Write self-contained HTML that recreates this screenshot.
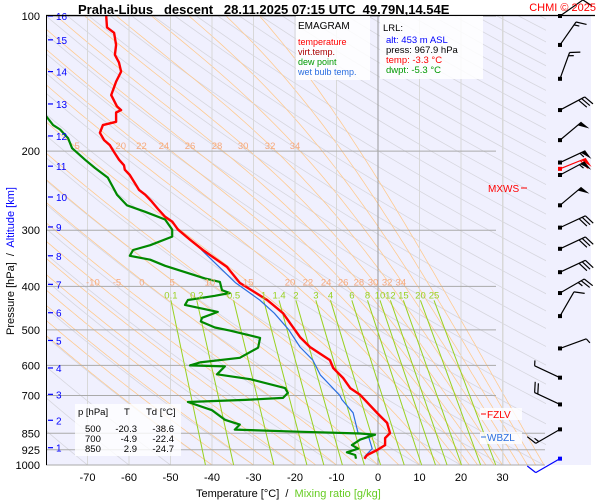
<!DOCTYPE html>
<html><head><meta charset="utf-8"><style>
html,body{margin:0;padding:0;background:#fff;width:600px;height:500px;overflow:hidden}
svg{display:block;font-family:"Liberation Sans",sans-serif}
</style></head><body>
<svg id="chart" width="600" height="500" viewBox="0 0 600 500">
<defs><clipPath id="clipPlot"><rect x="46" y="16" width="457" height="449"/></clipPath>
<clipPath id="clipWide"><rect x="46" y="16" width="500" height="449"/></clipPath></defs>
<rect x="46" y="16" width="545" height="449" fill="#f0f0fe"/>
<g id="grid"></g><g id="series"></g><g id="labels"></g><g id="winds"></g>
<text x="78" y="14" font-size="13" font-weight="bold" fill="#000" xml:space="preserve">Praha-Libus   descent   28.11.2025 07:15 UTC  49.79N,14.54E</text>
<text x="596" y="11" font-size="11" fill="#f00" text-anchor="end">CHMI © 2025</text>
<line x1="46" y1="15.5" x2="595" y2="15.5" stroke="#000" stroke-width="1.2"/>
<line x1="46.5" y1="16" x2="46.5" y2="465" stroke="#000" stroke-width="1"/>
<text transform="translate(14,335) rotate(-90)" font-size="11" xml:space="preserve"><tspan fill="#000">Pressure [hPa]  /  </tspan><tspan fill="#00f">Altitude [km]</tspan></text>
<text x="196" y="497" font-size="11" xml:space="preserve"><tspan fill="#000">Temperature [°C]  /  </tspan><tspan fill="#66cc22">Mixing ratio [g/kg]</tspan></text>
<g>
<rect x="296" y="16" width="74" height="64" fill="#fff" opacity="0.85"/>
<text x="298" y="29" font-size="10" fill="#000">EMAGRAM</text>
<text x="298" y="45" font-size="9" fill="#f00">temperature</text>
<text x="298" y="55" font-size="9" fill="#a00">virt.temp.</text>
<text x="298" y="65" font-size="9" fill="#090">dew point</text>
<text x="298" y="75" font-size="9" fill="#2a6ee0">wet bulb temp.</text>
</g>
<g>
<rect x="380" y="16" width="103" height="63" fill="#fff" opacity="0.85"/>
<text x="383" y="31" font-size="9.5" fill="#000">LRL:</text>
<text x="386" y="43" font-size="9.5" fill="#00f">alt: 453 m ASL</text>
<text x="386" y="53" font-size="9.5" fill="#000">press: 967.9 hPa</text>
<text x="386" y="63" font-size="9.5" fill="#f00">temp: -3.3 °C</text>
<text x="386" y="73" font-size="9.5" fill="#090">dwpt: -5.3 °C</text>
</g>
<g font-size="9.5" fill="#000">
<rect x="75" y="404" width="106" height="52" fill="#fff" opacity="0.8"/>
<text x="78" y="415">p [hPa]</text><text x="124" y="415">T</text><text x="146" y="415">Td [°C]</text>
<text x="85" y="432">500</text><text x="137" y="432" text-anchor="end">-20.3</text><text x="174" y="432" text-anchor="end">-38.6</text>
<text x="85" y="442">700</text><text x="137" y="442" text-anchor="end">-4.9</text><text x="174" y="442" text-anchor="end">-22.4</text>
<text x="85" y="452">850</text><text x="137" y="452" text-anchor="end">2.9</text><text x="174" y="452" text-anchor="end">-24.7</text>
</g>
<g font-size="10">
<text x="488" y="192" fill="#f00">MXWS</text><line x1="521" y1="188" x2="527" y2="188" stroke="#f00"/>
<rect x="480" y="408" width="42" height="12" fill="#fff" opacity="0.8"/>
<line x1="481" y1="414" x2="486" y2="414" stroke="#f00"/><text x="487" y="418" fill="#f00">FZLV</text>
<rect x="480" y="432" width="42" height="12" fill="#fff" opacity="0.8"/>
<line x1="481" y1="437" x2="486" y2="437" stroke="#2a6ee0"/><text x="487" y="441" fill="#2a6ee0">WBZL</text>
</g>
</svg>
<script>
const NS='http://www.w3.org/2000/svg';
// data
const pressureTicks=[100,200,300,400,500,600,700,850,925,1000];
const tempTicks=[-70,-60,-50,-40,-30,-20,-10,0,10,20,30];
const altKm=[1,2,3,4,5,6,7,8,9,10,11,12,13,14,15,16];
const altP=[915,795,696,608,528,458,396,342,295,253,216,185,157,133,113,100];
const mixRatios=[0.1,0.2,0.5,1,1.4,2,3,4,6,8,10,12,15,20,25];
const moistThetaW=[-40,-35,-30,-25,-20,-15,-10,-5,0,5,10,15,20,22,24,26,28,30,32,34,36,38,40];
const thetaLabelsLow=['-10','-5','0','5','10','15','20','22','24','26','28','30','32','34'];
const thetaLabelsLowT=[-68.7,-62.9,-56.9,-49.6,-40.5,-31.3,-21.2,-16.9,-12.5,-8.4,-4.6,-1.2,2.2,5.5];
const thetaLabelsHigh=['5','20','22','24','26','28','30','32','34'];
const thetaLabelsHighT=[-72.5,-62,-57,-51.6,-45.3,-38.8,-32.5,-26,-20];
const tempP=[100,106,109,116,122,127,133,140,150,159,162,164,172,175,182,189,194,201,209,215,220,226,234,244,250,259,269,280,287,299,315,332,362,393,429,459,519,546,584,608,640,674,698,766,806,849,871,903,926,950,968];
const tempT=[-65.5,-65.3,-63.6,-63.1,-63.4,-62.4,-61.9,-63.1,-64.3,-62.9,-61.9,-63.1,-63.1,-66.3,-67.0,-66.0,-64.6,-63.6,-62.4,-61.2,-61.0,-59.8,-58.8,-57.6,-56.1,-54.5,-53.0,-51.3,-49.6,-48.2,-45.3,-42.2,-36.4,-33.3,-26.7,-22.9,-18.8,-16.4,-11.6,-10.8,-8.4,-6.7,-4.3,-0.2,2.2,2.9,1.7,1.7,-0.2,-2.6,-3.3];
const dewP=[167,175,179,187,197,209,218,229,250,264,273,284,299,310,324,332,342,349,360,384,391,408,414,420,429,440,456,470,479,494,502,521,548,577,591,600,603,628,644,674,691,709,716,724,755,793,813,834,843,851,856,878,903,920,937,950,968];
const dewT=[-80,-78.3,-76.6,-74.7,-73.7,-70.6,-68.2,-65.1,-62.9,-60.5,-56.1,-51.3,-49.6,-49.6,-54.9,-59.0,-59.8,-54.9,-51.3,-41.7,-38.1,-37.6,-35.7,-39.3,-45.8,-46.5,-38.6,-42.4,-42.7,-39.3,-35.7,-28.4,-28.9,-33.3,-42.9,-45.3,-36.9,-38.8,-30.8,-22.4,-21.7,-22.9,-32.0,-45.8,-40.0,-36.9,-33.3,-34.5,-19.3,-4.3,-0.7,-4.3,-6.3,-4.8,-7.5,-5.5,-5.3];
const wbP=[332,393,429,459,500,546,584,630,700,715,765,849,856,920,955,968];
const wbT=[-42.5,-34.3,-28.5,-25.0,-21.5,-18.8,-15.7,-13.9,-9.2,-8.7,-6.0,-4.8,-2.4,-1.4,-3.1,-3.3];
const windP=[100,116,138,162,189,212,219,226,264,296,330,372,414,466,550,639,733,833,968];
const windDir=[55,35,20,62,50,65,68,62,50,65,65,65,60,30,70,295,295,240,240];
const windSpd=[10,15,15,30,50,55,60,55,50,30,30,30,25,10,5,5,20,15,10];

const X=t=>378+4.15*t, Y=p=>16+449*Math.log10(p/100);
const $=id=>document.getElementById(id);
function mk(tag,attrs,parent){const e=document.createElementNS(NS,tag);for(const k in attrs)e.setAttribute(k,attrs[k]);parent.appendChild(e);return e;}
const grid=$('grid'),series=$('series'),labels=$('labels'),winds=$('winds');
// dry adiabats (gray)
const gG=mk('g',{'clip-path':'url(#clipWide)'},grid);


for(let th=-80;th<=420;th+=10){let d='';for(let p=100;p<=1000;p+=20){const t=(th+273.15)*Math.pow(p/1000,0.286)-273.15;d+=(d?'L':'M')+X(t).toFixed(1)+','+Y(p).toFixed(1);}
 mk('path',{d:d,fill:'none',stroke:'#d6d6de','stroke-width':0.8},gG);}
// moist adiabats (orange)
const gO=mk('g',{'clip-path':'url(#clipWide)'},grid);


function es(t){return 6.112*Math.exp(17.67*t/(t+243.5));}
moistThetaW.forEach(tw=>{let T=tw,p=1000,d='M'+X(T).toFixed(1)+','+Y(p).toFixed(1);
 while(p>100){const Tk=T+273.15,e=es(T),rs=0.622*e/(p-e);
  const dTdp=(287*Tk+2.5e6*rs)/(p*(1005+2.5e6*2.5e6*rs*0.622/(287*Tk*Tk)));
  const dp=-5;T+=dTdp*dp;p+=dp;d+='L'+X(T).toFixed(1)+','+Y(p).toFixed(1);}
 mk('path',{d:d,fill:'none',stroke:'#ffc98c','stroke-width':0.75},gO);});
// vertical temperature grid
tempTicks.forEach(t=>{const l=mk('line',{x1:X(t),y1:16,x2:X(t),y2:465,stroke:t===0?'#999':'#d8d8d8','stroke-width':1},grid);
 
 
 const tx=mk('text',{x:X(t),y:481,'font-size':11,'text-anchor':'middle',fill:'#000'},labels);tx.textContent=t;
 
 });
mk('line',{x1:503,y1:16,x2:503,y2:465,stroke:'#d8d8d8'},grid);
// pressure grid
pressureTicks.forEach(p=>{const y=Y(p);const l=mk('line',{x1:46,y1:y,x2:p>=850?545:496,y2:y,stroke:'#aaa','stroke-width':1},grid);
 
 
 const tx=mk('text',{x:40,y:y+4,'font-size':11,'text-anchor':'end',fill:'#000'},labels);tx.textContent=p;
 
 });
// altitude
altKm.forEach((k,i)=>{const y=Y(altP[i]);mk('line',{x1:48,y1:y,x2:53,y2:y,stroke:'#00f','stroke-width':1.2},labels);
 const tx=mk('text',{x:56,y:y+4,'font-size':10,fill:'#00f'},labels);tx.textContent=k;
 
 });
// mixing ratio lines
function tdFromW(w,p){const e=w*p/(622+w);const a=Math.log(e/6.112);return 243.5*a/(17.67-a);}
mixRatios.forEach(w=>{const l=mk('line',{x1:X(tdFromW(w,400)),y1:Y(400)+14,x2:X(tdFromW(w,1000)),y2:465,stroke:'#99d11f','stroke-width':1},grid);
 
 
 const tx=mk('text',{x:X(tdFromW(w,400)),y:Y(400)+12,'font-size':9.5,'text-anchor':'middle',fill:'#99d11f'},labels);tx.textContent=w;
 
 });
thetaLabelsLow.forEach((s,i)=>{const tx=mk('text',{x:X(thetaLabelsLowT[i]),y:Y(400)-1,'font-size':9.5,'text-anchor':'middle',fill:'#f5a97f'},labels);tx.textContent=s;
 
 });
thetaLabelsHigh.forEach((s,i)=>{const tx=mk('text',{x:X(thetaLabelsHighT[i]),y:Y(200)-2,'font-size':9.5,'text-anchor':'middle',fill:'#f5a97f'},labels);tx.textContent=s;
 
 });
// series
function line(P,T,color,w,name){let d='';P.forEach((p,i)=>{d+=(i?'L':'M')+X(T[i]).toFixed(1)+','+Y(p).toFixed(1);});
 const e=mk('path',{d:d,fill:'none',stroke:color,'stroke-width':w,'stroke-linejoin':'round','clip-path':'url(#clipPlot)'},series);
 
 }
line(wbP,wbT,'#2a6ee0',1.2,'wet-bulb-line');
line(dewP,dewT,'#008800',2.2,'dew-point-line');
line(tempP,tempT,'#ff0000',2.4,'temperature-line');
// winds
windP.forEach((p,i)=>{const y=Y(p),x=560;const col=i===6?'#f00':(i===windP.length-1?'#00f':'#000');
 const g=mk('g',{},winds);
 
 
 const a=windDir[i]*Math.PI/180,ux=Math.sin(a),uy=-Math.cos(a),L=28;
 const ex=x+ux*L,ey=y+uy*L;
 mk('line',{x1:x,y1:y,x2:ex,y2:ey,stroke:col,'stroke-width':1.2},g);
 mk('rect',{x:x-2,y:y-2,width:4,height:4,fill:col},g);
 const px=Math.cos(a),py=Math.sin(a);let s=windSpd[i],pos=0;
 while(s>=50){const bx=ex-ux*pos,by=ey-uy*pos;mk('polygon',{points:`${bx},${by} ${bx+px*10+ux*2},${by+py*10+uy*2} ${bx-ux*5},${by-uy*5}`,fill:col},g);pos+=6;s-=50;}
 while(s>=10){const bx=ex-ux*pos,by=ey-uy*pos;mk('line',{x1:bx,y1:by,x2:bx+px*10+ux*4,y2:by+py*10+uy*4,stroke:col,'stroke-width':1.2},g);pos+=3.5;s-=10;}
 if(s>=5){const bx=ex-ux*pos,by=ey-uy*pos;mk('line',{x1:bx,y1:by,x2:bx+px*5+ux*2,y2:by+py*5+uy*2,stroke:col,'stroke-width':1.2},g);}
});
</script>
</body></html>
